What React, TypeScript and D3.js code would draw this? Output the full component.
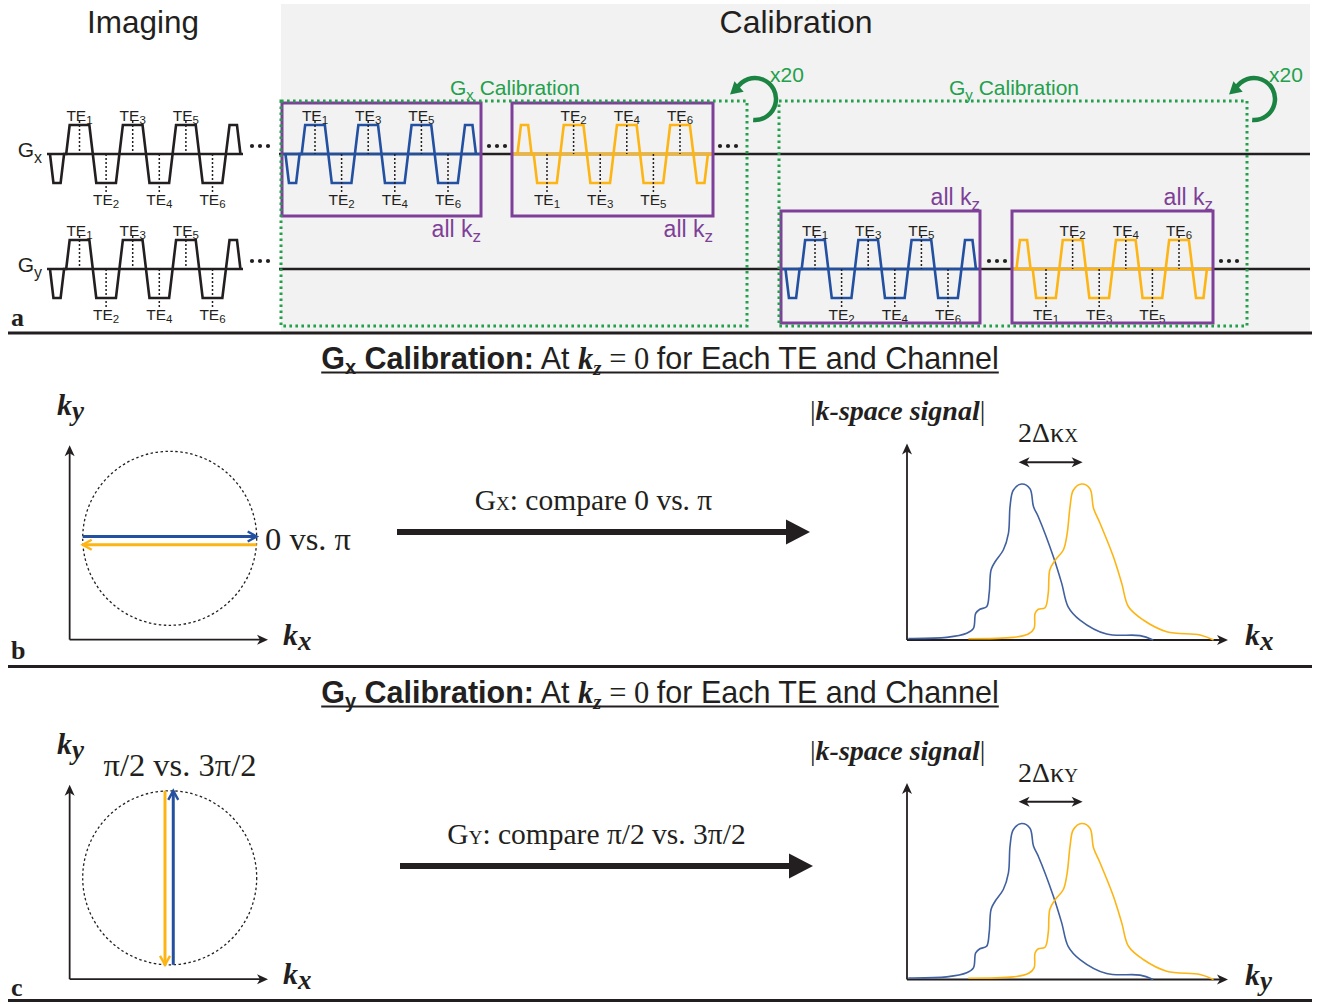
import React, { useEffect, useRef } from 'react';
import * as d3 from 'd3';

// gradient waveform vertices: time in echo spacings (TE1 at t=1), amplitude in units of max gradient
const gradWave: [number, number][] = [
  [-0.11, 0], [0.02, -1], [0.29, -1], [0.42, 0], [0.5, 0], [0.63, 1],
  [1.37, 1], [1.63, -1], [2.37, -1], [2.63, 1], [3.37, 1], [3.63, -1],
  [4.37, -1], [4.63, 1], [5.37, 1], [5.63, -1], [6.37, -1], [6.64, 1],
  [6.92, 1], [7.05, 0],
];
const echoNumbers = [1, 2, 3, 4, 5, 6];

// |k-space signal| profiles: [k position, normalised magnitude]
const blueProfile: [number, number][] = [
  [0.4, 0.01], [12.4, 0.017], [18.6, 0.043], [20.7, 0.075], [21.4, 0.17], [22.7, 0.197],
  [24.8, 0.213], [25.6, 0.3], [26.2, 0.45], [27.4, 0.5], [30, 0.577], [31.6, 0.684],
  [32.1, 0.855], [33.1, 0.96], [35.7, 1.0], [38.3, 0.97], [39.4, 0.855], [40.9, 0.79],
  [45.6, 0.534], [48.2, 0.363], [50.2, 0.213], [53.9, 0.128], [62.2, 0.038], [72.6, 0.028],
  [76.7, 0.0],
];
const orangeProfile: [number, number][] = [
  [19.1, 0.008], [33.1, 0.017], [37.8, 0.038], [39.6, 0.075], [39.9, 0.17], [40.9, 0.197],
  [43.0, 0.207], [44.0, 0.3], [44.5, 0.45], [46.1, 0.51], [48.7, 0.577], [49.9, 0.684],
  [50.8, 0.855], [51.8, 0.96], [54.4, 1.0], [57.0, 0.97], [58.1, 0.845], [60.1, 0.75],
  [64.3, 0.534], [66.9, 0.363], [69.0, 0.213], [73.6, 0.128], [80.9, 0.053], [91.3, 0.032],
  [95.5, 0.0],
];

const INK = '#231f20';
const BLUE = '#2350a0';
const ORANGE = '#fdb515';
const PBLUE = '#41609f';
const PURPLE = '#7e3f98';
const GREEN = '#22a04b';
const DGREEN = '#1b8442';
const SANS = 'Liberation Sans, Arial, sans-serif';
const SERIF = 'Liberation Serif, Times New Roman, serif';

const UNIT = 26.6;
const AMP = 29;

const trainLayout = [
  { te1: 79.5, base: 154, color: INK, sign: 1 },
  { te1: 79.5, base: 269, color: INK, sign: 1 },
  { te1: 315, base: 154, color: BLUE, sign: 1, box: [282, 481] },
  { te1: 547, base: 154, color: ORANGE, sign: -1, box: [512, 713] },
  { te1: 815, base: 269, color: BLUE, sign: 1, box: [781, 980] },
  { te1: 1046, base: 269, color: ORANGE, sign: -1, box: [1012, 1213] },
];

function headPoly(tx: number, ty: number, dx: number, dy: number, len = 11, half = 5, notch = 3) {
  const n = Math.hypot(dx, dy);
  const ux = dx / n, uy = dy / n;
  const px = -uy, py = ux;
  const bx = tx - ux * len, by = ty - uy * len;
  const nx = tx - ux * (len - notch), ny = ty - uy * (len - notch);
  return [
    [tx, ty], [bx + px * half, by + py * half], [nx, ny], [bx - px * half, by - py * half],
  ].map((p) => p.join(',')).join(' ');
}

function chevron(tx: number, ty: number, dx: number, dy: number, len = 9, half = 5) {
  const n = Math.hypot(dx, dy);
  const ux = dx / n, uy = dy / n;
  const px = -uy, py = ux;
  const bx = tx - ux * len, by = ty - uy * len;
  return `M${bx + px * half},${by + py * half}L${tx},${ty}L${bx - px * half},${by - py * half}`;
}

function Train({ te1, base, color, sign, box }: any) {
  const x = d3.scaleLinear().domain([1, 2]).range([te1, te1 + UNIT]);
  const y = d3.scaleLinear().domain([-1, 1]).range([base + AMP, base - AMP]);
  const line = d3.line<[number, number]>().x((d) => x(d[0])).y((d) => y(sign * d[1]));
  return (
    <g>
      {box && <line x1={box[0] + 1} x2={box[1] - 1} y1={base} y2={base} stroke={color} strokeWidth={2.6} />}
      <path d={line(gradWave) || ''} fill="none" stroke={color} strokeWidth={2.6} strokeLinejoin="miter" />
      {echoNumbers.map((n) => {
        const pol = (n % 2 === 1 ? 1 : -1) * sign;
        const xx = x(n);
        return (
          <g key={n}>
            <line x1={xx} x2={xx} y1={pol > 0 ? y(1) - 4 : base} y2={pol > 0 ? base : y(-1) + 9}
              stroke={INK} strokeWidth={1.5} strokeDasharray="2,2" />
            <text x={xx} y={pol > 0 ? base - 33 : base + 51} textAnchor="middle" fontFamily={SANS}
              fontSize={15.5} fill={INK}>
              TE<tspan dy={3} fontSize={11.5}>{n}</tspan>
            </text>
          </g>
        );
      })}
    </g>
  );
}

function Dots({ x, y }: { x: number; y: number }) {
  return (
    <g fill={INK}>
      {[0, 8, 16].map((o) => <circle key={o} cx={x + o} cy={y} r={2.1} />)}
    </g>
  );
}

function Loop({ cx, cy, label }: { cx: number; cy: number; label: string }) {
  const r = 21;
  const p = d3.path();
  const a0 = (95 * Math.PI) / 180, a1 = (-150 * Math.PI) / 180;
  p.arc(cx, cy, r, a0, a1, true);
  const ex = cx + r * Math.cos(a1), ey = cy + r * Math.sin(a1);
  const tx = ex - 0.75 * 9, ty = ey + 0.66 * 9;
  return (
    <g>
      <path d={p.toString()} fill="none" stroke={DGREEN} strokeWidth={4.5} />
      <polygon points={headPoly(tx, ty, -0.75, 0.66, 12, 7, 0)} fill={DGREEN} />
      <text x={cx + 15} y={cy - 17} fontFamily={SANS} fontSize={21} fill={GREEN}>{label}</text>
    </g>
  );
}

function CirclePanel({ cy0, mode }: { cy0: number; mode: 'x' | 'y' }) {
  const cX = d3.scaleLinear().domain([-1, 1]).range([82.7, 256.7]);
  const cY = d3.scaleLinear().domain([-1, 1]).range([cy0 + 87, cy0 - 87]);
  const ax = cX(-1.15), ay = cY(-1.165);
  return (
    <g>
      <line x1={ax} y1={ay} x2={ax} y2={cY(1.07) + 6} stroke={INK} strokeWidth={1.8} />
      <polygon points={headPoly(ax, cY(1.07), 0, -1)} fill={INK} />
      <line x1={ax} y1={ay} x2={cX(1.13) - 6} y2={ay} stroke={INK} strokeWidth={1.8} />
      <polygon points={headPoly(cX(1.13), ay, 1, 0)} fill={INK} />
      <circle cx={cX(0)} cy={cY(0)} r={cX(1) - cX(0)} fill="none" stroke={INK} strokeWidth={1.3} strokeDasharray="2.5,2.5" />
      {mode === 'x' ? (
        <g fill="none" strokeWidth={3}>
          <line x1={cX(-1)} x2={cX(1)} y1={cY(0.02)} y2={cY(0.02)} stroke={BLUE} />
          <path d={chevron(cX(1), cY(0.02), 1, 0)} stroke={BLUE} strokeWidth={2.4} />
          <line x1={cX(1)} x2={cX(-1)} y1={cY(-0.075)} y2={cY(-0.075)} stroke={ORANGE} />
          <path d={chevron(cX(-1), cY(-0.075), -1, 0)} stroke={ORANGE} strokeWidth={2.4} />
        </g>
      ) : (
        <g fill="none" strokeWidth={3}>
          <line x1={cX(-0.054)} x2={cX(-0.054)} y1={cY(1)} y2={cY(-1)} stroke={ORANGE} />
          <path d={chevron(cX(-0.054), cY(-1), 0, 1)} stroke={ORANGE} strokeWidth={2.4} />
          <line x1={cX(0.041)} x2={cX(0.041)} y1={cY(-1)} y2={cY(1)} stroke={BLUE} />
          <path d={chevron(cX(0.041), cY(1), 0, -1)} stroke={BLUE} strokeWidth={2.4} />
        </g>
      )}
      <text x={57} y={cY(1.42)} fontFamily={SERIF} fontWeight="bold" fontStyle="italic" fontSize={30} fill={INK}>
        k<tspan dy={5} fontSize={27}>y</tspan>
      </text>
      <text x={283} y={ay + 5} fontFamily={SERIF} fontWeight="bold" fontStyle="italic" fontSize={30} fill={INK}>
        k<tspan dy={5} fontSize={27}>x</tspan>
      </text>
      {mode === 'x' ? (
        <text x={265} y={cY(-0.13)} fontFamily={SERIF} fontSize={32.5} fill={INK}>0 vs. π</text>
      ) : (
        <text x={180} y={cY(1.17)} textAnchor="middle" fontFamily={SERIF} fontSize={32.5} fill={INK}>π/2 vs. 3π/2</text>
      )}
    </g>
  );
}

function ProfilePanel({ axisY, sub }: { axisY: number; sub: string }) {
  const xK = d3.scaleLinear().domain([0, 100]).range([907, 1228]);
  const yS = d3.scaleLinear().domain([0, 1]).range([axisY, axisY - 156]);
  const line = d3.line<[number, number]>().x((d) => xK(d[0])).y((d) => yS(d[1])).curve(d3.curveCatmullRom.alpha(0.5));
  const pB = blueProfile.reduce((a, b) => (b[1] > a[1] ? b : a));
  const pO = orangeProfile.reduce((a, b) => (b[1] > a[1] ? b : a));
  const ya = yS(1.14);
  const x0 = xK(pB[0]) - 3, x1 = xK(pO[0]) + 1;
  return (
    <g>
      <line x1={xK(0)} y1={yS(0)} x2={xK(0)} y2={yS(1.26) + 6} stroke={INK} strokeWidth={1.8} />
      <polygon points={headPoly(xK(0), yS(1.26), 0, -1)} fill={INK} />
      <line x1={xK(0)} y1={yS(0)} x2={xK(100) - 6} y2={yS(0)} stroke={INK} strokeWidth={1.8} />
      <polygon points={headPoly(xK(100), yS(0), 1, 0)} fill={INK} />
      <path d={line(blueProfile) || ''} fill="none" stroke={PBLUE} strokeWidth={1.6} />
      <path d={line(orangeProfile) || ''} fill="none" stroke={ORANGE} strokeWidth={1.6} />
      <line x1={x0 + 6} x2={x1 - 6} y1={ya} y2={ya} stroke={INK} strokeWidth={2} />
      <polygon points={headPoly(x0, ya, -1, 0, 11, 5, 3)} fill={INK} />
      <polygon points={headPoly(x1, ya, 1, 0, 11, 5, 3)} fill={INK} />
      <text x={1018} y={axisY - 198} fontFamily={SERIF} fontSize={28} fill={INK}>
        2Δκ<tspan fontSize={19}>{sub.toUpperCase()}</tspan>
      </text>
      <text x={810} y={axisY - 220} fontFamily={SERIF} fontSize={28} fill={INK}>
        |<tspan fontWeight="bold" fontStyle="italic">k-space signal</tspan>|
      </text>
      <text x={1245} y={yS(0) + 5} fontFamily={SERIF} fontWeight="bold" fontStyle="italic" fontSize={30} fill={INK}>
        k<tspan dy={5} fontSize={27}>{sub}</tspan>
      </text>
    </g>
  );
}

function BigArrow({ x0, x1, y, sub, text }: { x0: number; x1: number; y: number; sub: string; text: string }) {
  return (
    <g>
      <line x1={x0} x2={x1 - 22} y1={y} y2={y} stroke={INK} strokeWidth={6} />
      <polygon points={headPoly(x1, y, 1, 0, 24, 12.5, 0)} fill={INK} />
      <text x={(x0 + x1) / 2 - 10} y={y - 22} textAnchor="middle" fontFamily={SERIF} fontSize={29.5} fill={INK}>
        G<tspan fontSize={19}>{sub}</tspan>: compare {text}
      </text>
    </g>
  );
}

function SectionTitle({ y, sub, tref, uref }: any) {
  return (
    <g>
      <text ref={tref} x={660} y={y} textAnchor="middle" fontFamily={SANS} fontSize={30.5} fill={INK}>
        <tspan fontWeight="bold">G</tspan>
        <tspan fontWeight="bold" fontSize={20} dy={5}>{sub}</tspan>
        <tspan fontWeight="bold" dy={-5}> Calibration:</tspan>
        <tspan> At </tspan>
        <tspan fontFamily={SERIF} fontStyle="italic" fontWeight="bold">k</tspan>
        <tspan fontFamily={SERIF} fontStyle="italic" fontWeight="bold" fontSize={21} dy={6}>z</tspan>
        <tspan fontFamily={SERIF} dy={-6}> = 0 </tspan>
        <tspan>for Each TE and Channel</tspan>
      </text>
      <line ref={uref} x1={322} x2={998} y1={y + 3.5} y2={y + 3.5} stroke={INK} strokeWidth={2} />
    </g>
  );
}

export default function App() {
  const t1 = useRef<SVGTextElement>(null);
  const t2 = useRef<SVGTextElement>(null);
  const u1 = useRef<SVGLineElement>(null);
  const u2 = useRef<SVGLineElement>(null);

  useEffect(() => {
    [[t1, u1], [t2, u2]].forEach(([t, u]: any) => {
      if (!t.current || !u.current) return;
      const b = t.current.getBBox();
      d3.select(u.current).attr('x1', b.x).attr('x2', b.x + b.width);
    });
  }, []);

  return (
    <svg width={1319} height={1004} style={{ position: 'absolute', left: 0, top: 0, background: '#fff' }}>
      <rect x={281} y={4} width={1029} height={328} fill="#f2f2f2" />
      <text x={143} y={33} textAnchor="middle" fontFamily={SANS} fontSize={31.5} fill={INK}>Imaging</text>
      <text x={796} y={33} textAnchor="middle" fontFamily={SANS} fontSize={32} fill={INK}>Calibration</text>

      {/* baselines */}
      {[154, 269].map((b) => (
        <g key={b}>
          <line x1={47} x2={243} y1={b} y2={b} stroke={INK} strokeWidth={2.6} />
          <line x1={279} x2={1310} y1={b} y2={b} stroke={INK} strokeWidth={2.6} />
          <Dots x={252} y={b - 8} />
        </g>
      ))}
      <Dots x={489} y={146} />
      <Dots x={720} y={146} />
      <Dots x={989} y={261} />
      <Dots x={1221} y={261} />

      <text x={42} y={157} textAnchor="end" fontFamily={SANS} fontSize={21} fill={INK}>
        G<tspan dy={6} fontSize={16}>x</tspan>
      </text>
      <text x={42} y={272} textAnchor="end" fontFamily={SANS} fontSize={21} fill={INK}>
        G<tspan dy={6} fontSize={16}>y</tspan>
      </text>

      {trainLayout.map((t, i) => <Train key={i} {...t} />)}

      {/* purple all-kz boxes */}
      {[[282, 481, 103, 216, 237], [512, 713, 103, 216, 237], [781, 980, 211, 323, 205], [1012, 1213, 211, 323, 205]].map((b, i) => (
        <g key={i}>
          <rect x={b[0]} y={b[2]} width={b[1] - b[0]} height={b[3] - b[2]} fill="none" stroke={PURPLE} strokeWidth={3} />
          <text x={b[1]} y={b[4]} textAnchor="end" fontFamily={SANS} fontSize={23} fill={PURPLE}>
            all k<tspan dy={5} fontSize={17}>z</tspan>
          </text>
        </g>
      ))}

      {/* green calibration groups */}
      <rect x={281} y={101} width={466} height={225} fill="none" stroke={GREEN} strokeWidth={3} strokeDasharray="2.6,3.4" />
      <rect x={779} y={101} width={468} height={225} fill="none" stroke={GREEN} strokeWidth={3} strokeDasharray="2.6,3.4" />
      <text x={515} y={95} textAnchor="middle" fontFamily={SANS} fontSize={21} fill={GREEN}>
        G<tspan dy={5} fontSize={15}>x</tspan><tspan dy={-5}> Calibration</tspan>
      </text>
      <text x={1014} y={95} textAnchor="middle" fontFamily={SANS} fontSize={21} fill={GREEN}>
        G<tspan dy={5} fontSize={15}>y</tspan><tspan dy={-5}> Calibration</tspan>
      </text>
      <Loop cx={755} cy={99} label="x20" />
      <Loop cx={1254} cy={99} label="x20" />

      <text x={11} y={326} fontFamily={SERIF} fontWeight="bold" fontSize={26} fill={INK}>a</text>
      <line x1={8} x2={1312} y1={333} y2={333} stroke={INK} strokeWidth={3} />

      <SectionTitle y={369} sub="x" tref={t1} uref={u1} />
      <CirclePanel cy0={538.3} mode="x" />
      <BigArrow x0={397} x1={810} y={532} sub="X" text="0 vs. π" />
      <ProfilePanel axisY={640} sub="x" />
      <text x={11} y={659} fontFamily={SERIF} fontWeight="bold" fontSize={26} fill={INK}>b</text>
      <line x1={8} x2={1312} y1={666.5} y2={666.5} stroke={INK} strokeWidth={3} />

      <SectionTitle y={703} sub="y" tref={t2} uref={u2} />
      <CirclePanel cy0={877.8} mode="y" />
      <BigArrow x0={400} x1={813} y={866} sub="Y" text="π/2 vs. 3π/2" />
      <ProfilePanel axisY={979.5} sub="y" />
      <text x={11} y={996} fontFamily={SERIF} fontWeight="bold" fontSize={26} fill={INK}>c</text>
      <line x1={8} x2={1312} y1={1000.5} y2={1000.5} stroke={INK} strokeWidth={3} />
    </svg>
  );
}
